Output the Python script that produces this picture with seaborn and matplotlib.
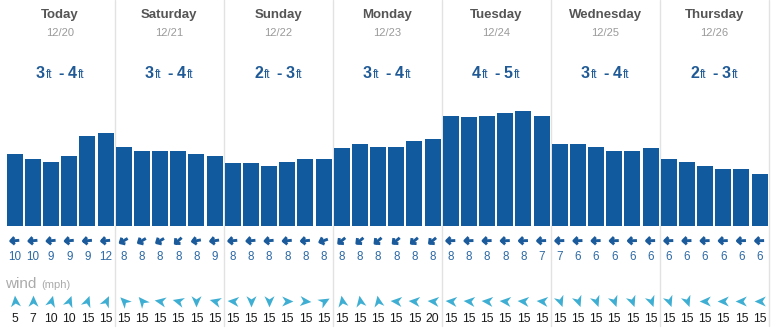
import numpy as np
import pandas as pd
import matplotlib
matplotlib.use("Agg")
import matplotlib.pyplot as plt
import seaborn as sns
from matplotlib.path import Path
from matplotlib.markers import MarkerStyle
from matplotlib.transforms import Affine2D, blended_transform_factory, IdentityTransform

# ---------------- data ----------------
days = ["Today", "Saturday", "Sunday", "Monday", "Tuesday", "Wednesday", "Thursday"]
dates = ["12/20", "12/21", "12/22", "12/23", "12/24", "12/25", "12/26"]
range_lo = [3, 3, 2, 3, 4, 3, 2]
range_hi = [4, 4, 3, 4, 5, 4, 3]

wave_height = [
    2.88, 2.67, 2.55, 2.79, 3.60, 3.72,
    3.15, 2.99, 2.99, 2.99, 2.87, 2.79,
    2.51, 2.51, 2.39, 2.55, 2.67, 2.67,
    3.11, 3.28, 3.15, 3.15, 3.39, 3.47,
    4.36, 4.32, 4.36, 4.48, 4.59, 4.36,
    3.28, 3.28, 3.15, 2.99, 2.99, 3.11,
    2.67, 2.55, 2.39, 2.27, 2.27, 2.07,
]
swell_period = [
    10, 10, 9, 9, 9, 12,
    8, 8, 8, 8, 8, 9,
    8, 8, 8, 8, 8, 8,
    8, 8, 8, 8, 8, 8,
    8, 8, 8, 8, 8, 7,
    7, 6, 6, 6, 6, 6,
    6, 6, 6, 6, 6, 6,
]
# direction the arrow points (degrees, counter-clockwise from east)
swell_dir = [
    185, 185, 185, 185, 185, 185,
    210, 210, 210, 222, 190, 188,
    185, 185, 185, 185, 185, 200,
    220, 220, 220, 220, 220, 220,
    182, 182, 182, 182, 182, 182,
    182, 182, 182, 182, 182, 182,
    182, 182, 182, 182, 182, 182,
]
wind_speed = [
    5, 7, 10, 10, 15, 15,
    15, 15, 15, 15, 15, 15,
    15, 15, 15, 15, 15, 15,
    15, 15, 15, 15, 15, 20,
    15, 15, 15, 15, 15, 15,
    15, 15, 15, 15, 15, 15,
    15, 15, 15, 15, 15, 15,
]
wind_dir = [
    95, 90, 75, 70, 70, 65,
    135, 130, 170, 165, 270, 165,
    175, 270, 270, 0, 355, 30,
    100, 100, 100, 175, 175, 175,
    175, 175, 175, 175, 175, 175,
    290, 290, 290, 290, 290, 290,
    290, 290, 180, 180, 180, 180,
]

# ---------------- style ----------------
BAR = "#115a9e"
SWELL = "#1b5b9b"
SWELL_TXT = "#2c69a5"
RANGE = "#1f5a96"
WIND = "#3eaed2"
SEP = "#e2e2e2"

sns.set_theme(style="white")
plt.rcParams["font.family"] = ["Liberation Sans", "DejaVu Sans"]

W, H = 773, 334
fig = plt.figure(figsize=(W / 100, H / 100), dpi=100)
fig.patch.set_facecolor("white")

ax = fig.add_axes([5.7 / W, (H - 225.5) / H, 763 / W, 125.5 / H])
df = pd.DataFrame({"slot": np.arange(len(wave_height)), "height": wave_height})
sns.barplot(data=df, x="slot", y="height", color=BAR, saturation=1,
            width=0.88, linewidth=0, ax=ax, zorder=2)
ax.set_xlim(-0.5, len(wave_height) - 0.5)
ax.set_ylim(0, 5.02)
ax.axis("off")

trans = blended_transform_factory(ax.transData, fig.transFigure)


def fy(px):
    return 1 - px / H


n_days = len(days)
per_day = len(wave_height) // n_days

# separators
for k in range(1, n_days + 1):
    x = per_day * k - 0.5
    ax.plot([x, x], [fy(0), fy(326)], transform=trans, color=SEP, lw=1,
            clip_on=False, zorder=0.5)

# headers
for k in range(n_days):
    xc = per_day * k + (per_day - 1) / 2
    ax.text(xc, fy(14.7), days[k], transform=trans, ha="center", va="center",
            fontsize=9.5, fontweight="bold", color="#555555")
    ax.text(xc, fy(33.3), dates[k], transform=trans, ha="center", va="center",
            fontsize=8, color="#9a9a9a")

renderer = fig.canvas.get_renderer()


def draw_pieces(pieces, x_px, base_px, align="center"):
    objs, widths = [], []
    for s, kw, gap in pieces:
        t = fig.text(0, 0, s, transform=IdentityTransform(), va="baseline",
                     ha="left", **kw)
        w = t.get_window_extent(renderer).width
        objs.append((t, gap))
        widths.append(w)
    total = sum(widths) + sum(g for _, g in objs)
    x = x_px - total / 2 if align == "center" else x_px
    for (t, gap), w in zip(objs, widths):
        x += gap
        t.set_position((x, H - base_px))
        x += w


big = dict(fontsize=11.5, fontweight="bold", color=RANGE)
small = dict(fontsize=8.5, color=RANGE)
for k in range(n_days):
    xc_px = ax.transData.transform((per_day * k + (per_day - 1) / 2, 0))[0]
    draw_pieces([
        (str(range_lo[k]), big, 0),
        ("ft", small, 1),
        ("-", big, 6),
        (str(range_hi[k]), big, 4),
        ("ft", small, 1),
    ], xc_px, 78.3)

# wind label
draw_pieces([
    ("wind", dict(fontsize=11, color="#ababab"), 0),
    ("(mph)", dict(fontsize=8, color="#ababab"), 4),
], 5.5, 287.5, align="left")

# marker shapes
swell_path = Path(
    [(-1.0, 0.0), (0.85, 0.0), (0.05, 0.8), (0.9, 0.0), (0.05, -0.8)],
    [Path.MOVETO, Path.LINETO, Path.MOVETO, Path.LINETO, Path.LINETO],
)
wind_path = Path(
    [(1.0, 0.0), (-0.9, 0.85), (-0.35, 0.0), (-0.9, -0.85), (1.0, 0.0)],
    [Path.MOVETO, Path.LINETO, Path.LINETO, Path.LINETO, Path.CLOSEPOLY],
)

for i in range(len(wave_height)):
    m = MarkerStyle(swell_path, transform=Affine2D().rotate_deg(swell_dir[i]))
    ax.scatter([i], [fy(240.7)], transform=trans, marker=m, s=42,
               facecolors="none", edgecolors=SWELL, linewidths=2.1,
               clip_on=False, zorder=3)
    ax.text(i, fy(257.3), str(swell_period[i]), transform=trans, ha="center",
            va="center", fontsize=8.4, color=SWELL_TXT)

    mw = MarkerStyle(wind_path, transform=Affine2D().rotate_deg(wind_dir[i]))
    ax.scatter([i], [fy(301)], transform=trans, marker=mw, s=72,
               color=WIND, linewidths=0, clip_on=False, zorder=3)
    ax.text(i, fy(318.5), str(wind_speed[i]), transform=trans, ha="center",
            va="center", fontsize=8.8, color="#1a1a1a")

ax.set_xlim(-0.5, len(wave_height) - 0.5)
ax.set_ylim(0, 5.02)
fig.savefig("out.png", dpi=100, facecolor="white")
